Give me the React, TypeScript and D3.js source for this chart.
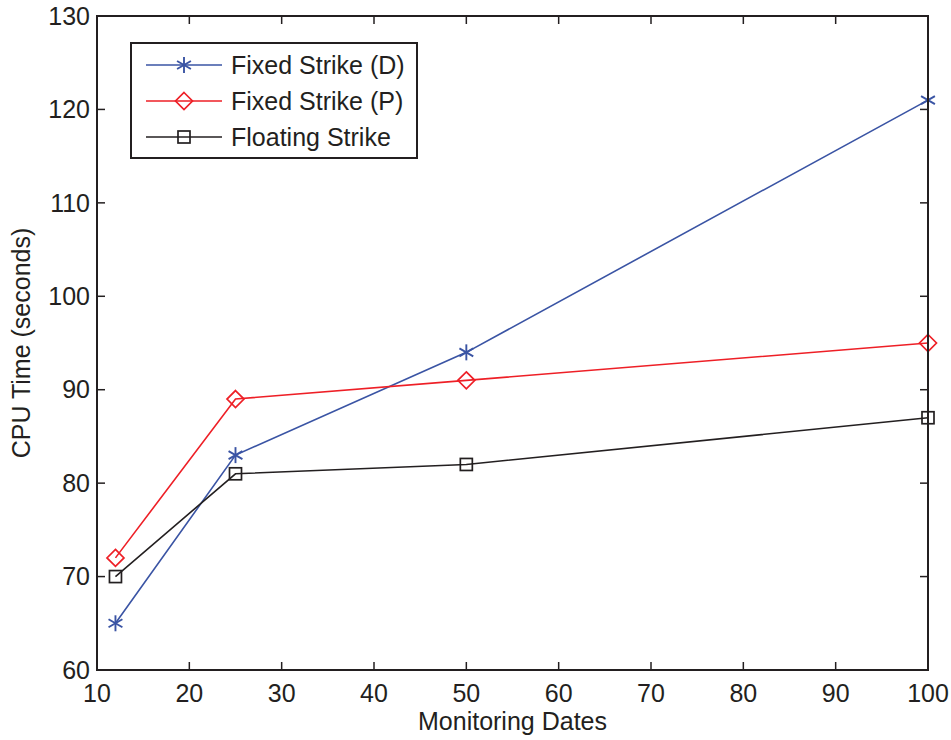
import React, { useRef, useEffect } from 'react';
import * as d3 from 'd3';

const dates = [12, 25, 50, 100];
const fixedD = [65, 83, 94, 121];
const fixedP = [72, 89, 91, 95];
const floating = [70, 81, 82, 87];
const xTicks = [10, 20, 30, 40, 50, 60, 70, 80, 90, 100];
const yTicks = [60, 70, 80, 90, 100, 110, 120, 130];

const series = [
  { name: 'Fixed Strike (D)', values: fixedD, color: '#3a54a4', marker: 'star' },
  { name: 'Fixed Strike (P)', values: fixedP, color: '#ee1f26', marker: 'diamond' },
  { name: 'Floating Strike', values: floating, color: '#231f20', marker: 'square' },
];

const W = 951;
const H = 740;
const margin = { left: 97, right: 23, top: 16, bottom: 70 };
const font = '"Liberation Sans", Arial, Helvetica, sans-serif';
const fs = 25;

function drawMarker(g: any, type: string, x: number, y: number, color: string) {
  if (type === 'star') {
    const r = 8;
    const p = g.append('g').attr('stroke', color).attr('stroke-width', 1.9);
    p.append('line').attr('x1', x).attr('x2', x).attr('y1', y - r).attr('y2', y + r);
    const dx = r * Math.cos(Math.PI / 6);
    const dy = r * Math.sin(Math.PI / 6);
    p.append('line').attr('x1', x - dx).attr('x2', x + dx).attr('y1', y - dy).attr('y2', y + dy);
    p.append('line').attr('x1', x - dx).attr('x2', x + dx).attr('y1', y + dy).attr('y2', y - dy);
  } else if (type === 'diamond') {
    const r = 8.5;
    g.append('path')
      .attr('d', `M${x},${y - r}L${x + r},${y}L${x},${y + r}L${x - r},${y}Z`)
      .attr('fill', 'none').attr('stroke', color).attr('stroke-width', 1.7);
  } else {
    const r = 6;
    g.append('rect').attr('x', x - r).attr('y', y - r).attr('width', 2 * r).attr('height', 2 * r)
      .attr('fill', 'none').attr('stroke', color).attr('stroke-width', 1.7);
  }
}

const App = () => {
  const svgRef = useRef<SVGSVGElement | null>(null);

  useEffect(() => {
    const svg = d3.select(svgRef.current);
    svg.selectAll('*').remove();

    const x = d3.scaleLinear().domain([10, 100]).range([margin.left, W - margin.right]);
    const y = d3.scaleLinear().domain([60, 130]).range([H - margin.bottom, margin.top]);
    const g = svg.append('g');
    const x0 = x.range()[0], x1 = x.range()[1];
    const y0 = y.range()[0], y1 = y.range()[1];
    const tickLen = 8;
    const axisColor = '#231f20';

    // ticks (inside, mirrored)
    xTicks.forEach(t => {
      g.append('line').attr('x1', x(t)).attr('x2', x(t)).attr('y1', y0).attr('y2', y0 - tickLen)
        .attr('stroke', axisColor).attr('stroke-width', 1.5);
      g.append('line').attr('x1', x(t)).attr('x2', x(t)).attr('y1', y1).attr('y2', y1 + tickLen)
        .attr('stroke', axisColor).attr('stroke-width', 1.5);
      g.append('text').attr('x', x(t)).attr('y', y0 + 32).attr('text-anchor', 'middle')
        .attr('font-family', font).attr('font-size', fs).attr('fill', axisColor).text(t);
    });
    yTicks.forEach(t => {
      g.append('line').attr('x1', x0).attr('x2', x0 + tickLen).attr('y1', y(t)).attr('y2', y(t))
        .attr('stroke', axisColor).attr('stroke-width', 1.5);
      g.append('line').attr('x1', x1).attr('x2', x1 - tickLen).attr('y1', y(t)).attr('y2', y(t))
        .attr('stroke', axisColor).attr('stroke-width', 1.5);
      g.append('text').attr('x', x0 - 7).attr('y', y(t)).attr('dy', '0.35em').attr('text-anchor', 'end')
        .attr('font-family', font).attr('font-size', fs).attr('fill', axisColor).text(t);
    });

    // series
    const line = d3.line<number>().x((_, i) => x(dates[i])).y(d => y(d));
    series.forEach(s => {
      g.append('path').datum(s.values).attr('d', line).attr('fill', 'none')
        .attr('stroke', s.color).attr('stroke-width', 1.6);
      s.values.forEach((v, i) => drawMarker(g, s.marker, x(dates[i]), y(v), s.color));
    });

    // frame
    g.append('rect').attr('x', x0).attr('y', y1).attr('width', x1 - x0).attr('height', y0 - y1)
      .attr('fill', 'none').attr('stroke', axisColor).attr('stroke-width', 2);

    // axis labels
    g.append('text').attr('x', (x0 + x1) / 2).attr('y', H - 10).attr('text-anchor', 'middle')
      .attr('font-family', font).attr('font-size', fs).attr('fill', axisColor).text('Monitoring Dates');
    g.append('text').attr('transform', `translate(30,${(y0 + y1) / 2}) rotate(-90)`)
      .attr('text-anchor', 'middle').attr('font-family', font).attr('font-size', fs)
      .attr('fill', axisColor).text('CPU Time (seconds)');

    // legend
    const lg = g.append('g');
    lg.append('rect').attr('x', 131).attr('y', 43).attr('width', 286).attr('height', 115)
      .attr('fill', '#fff').attr('stroke', axisColor).attr('stroke-width', 2);
    series.forEach((s, i) => {
      const ly = 65 + i * 36;
      lg.append('line').attr('x1', 146).attr('x2', 222).attr('y1', ly).attr('y2', ly)
        .attr('stroke', s.color).attr('stroke-width', 1.6);
      drawMarker(lg, s.marker, 184, ly, s.color);
      lg.append('text').attr('x', 231).attr('y', ly).attr('dy', '0.35em')
        .attr('font-family', font).attr('font-size', fs).attr('fill', axisColor).text(s.name);
    });
  }, []);

  return (
    <svg ref={svgRef} width={W} height={H} style={{ position: 'absolute', left: 0, top: 0, background: '#fff' }} />
  );
};

export default App;
